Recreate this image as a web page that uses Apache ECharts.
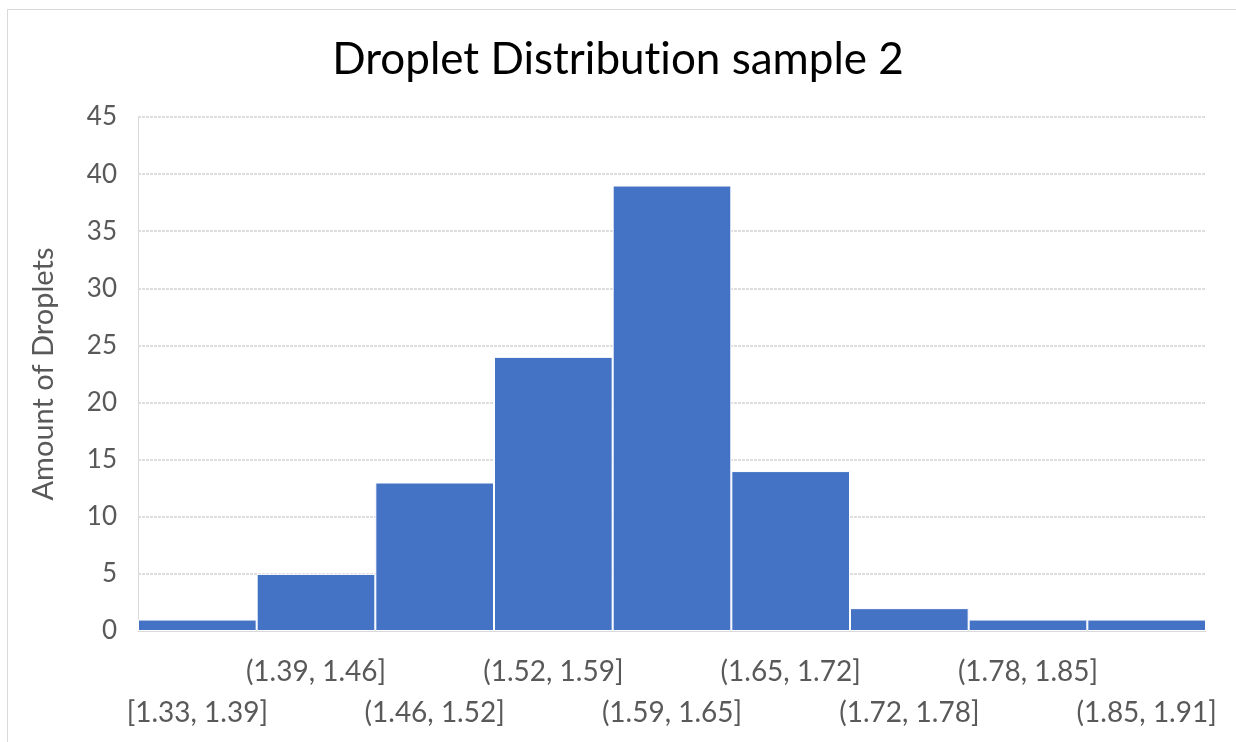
<!DOCTYPE html>
<html>
<head>
<meta charset="utf-8">
<style>
  html, body { margin: 0; padding: 0; background: #ffffff; }
  #chart { width: 1236px; height: 742px; }
</style>
<script src="https://cdn.jsdelivr.net/npm/echarts@6/dist/echarts.min.js"></script>
</head>
<body>
<div id="chart"></div>
<script>
// Histogram bins (droplet size ranges) and counts per bin
const binLabels = [
  '[1.33, 1.39]', '(1.39, 1.46]', '(1.46, 1.52]', '(1.52, 1.59]', '(1.59, 1.65]',
  '(1.65, 1.72]', '(1.72, 1.78]', '(1.78, 1.85]', '(1.85, 1.91]'
];
const dropletCounts = [1, 5, 13, 24, 39, 14, 2, 1, 1];
const yTicks = { min: 0, max: 45, step: 5 };

const FONT = 'Lato, "Open Sans", sans-serif';
const titleStyle = { fontFamily: FONT, fontSize: 44, fontWeight: 'normal', color: '#000000' };
const chart = echarts.init(document.getElementById('chart'));

chart.setOption({
  backgroundColor: '#ffffff',
  animation: false,
  title: {
    // split into two runs between "t" and "i" so no ligature is formed
    text: 'Droplet Distribut{t|ion sample 2}',
    left: 'center',
    top: 33,
    textStyle: Object.assign({ rich: { t: titleStyle } }, titleStyle)
  },
  graphic: [{
    type: 'rect',
    shape: { x: 7.5, y: 9.5, width: 1400, height: 900 },
    style: { fill: 'none', stroke: '#d9d9d9', lineWidth: 1 },
    silent: true
  }],
  grid: { left: 138, right: 30, top: 117, bottom: 111 },
  xAxis: {
    type: 'category',
    data: binLabels,
    axisLine: { show: true, lineStyle: { color: '#d9d9d9' } },
    axisTick: { show: false },
    axisLabel: {
      interval: 0,
      fontFamily: FONT,
      fontSize: 28,
      color: '#595959',
      margin: 20,
      lineHeight: 41,
      // stagger the bin labels over two rows
      formatter: (v, i) => (i % 2 === 1 ? v : '\n' + v)
    }
  },
  yAxis: {
    type: 'value',
    min: yTicks.min,
    max: yTicks.max,
    interval: yTicks.step,
    name: 'Amount of Droplets',
    nameLocation: 'middle',
    nameGap: 80,
    nameRotate: 90,
    nameTextStyle: { fontFamily: FONT, fontSize: 29, color: '#595959' },
    axisLine: { show: true, lineStyle: { color: '#d9d9d9' } },
    axisTick: { show: false },
    axisLabel: { fontFamily: FONT, fontSize: 26, color: '#595959', margin: 21 },
    splitLine: { show: true, lineStyle: { color: '#d4d4d4', type: [3, 1], width: 1.5 } }
  },
  series: [{
    type: 'bar',
    data: dropletCounts,
    barCategoryGap: '0%',
    itemStyle: { color: '#4472c4', borderColor: '#ffffff', borderWidth: 1 }
  }]
});
</script>
</body>
</html>
